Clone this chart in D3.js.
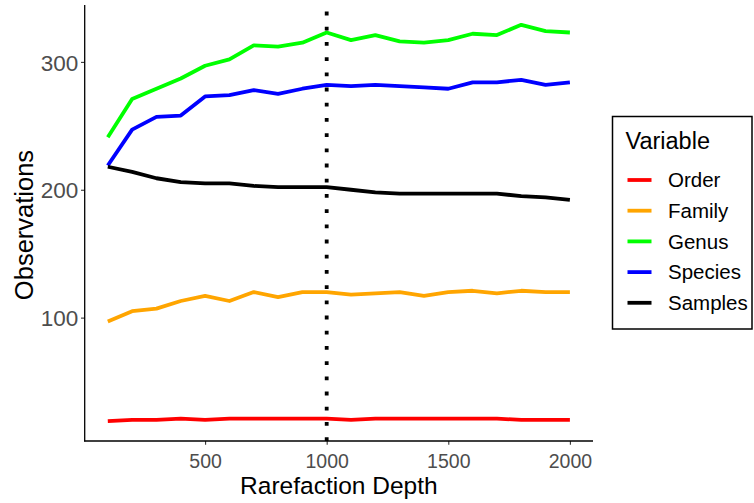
<!DOCTYPE html>
<html>
<head>
<meta charset="utf-8">
<script src="https://cdn.jsdelivr.net/npm/d3@7"></script>
<style>
  html, body { margin: 0; padding: 0; background: #fff; }
  text { font-family: "Liberation Sans", Arial, Helvetica, sans-serif; }
</style>
</head>
<body>
<svg id="chart" width="754" height="503"></svg>
<script>
// ---- data ----
const depths = [100, 200, 300, 400, 500, 600, 700, 800, 900, 1000,
                1100, 1200, 1300, 1400, 1500, 1600, 1700, 1800, 1900, 2000];
const orderVals   = [19, 20, 20, 21, 20, 21, 21, 21, 21, 21, 20, 21, 21, 21, 21, 21, 21, 20, 20, 20];
const familyVals  = [97, 105, 107, 113, 117, 113, 120, 116, 120, 120, 118, 119, 120, 117, 120, 121, 119, 121, 120, 120];
const genusVals   = [241, 271, 279, 287, 297, 302, 313, 312, 315, 323, 317, 321, 316, 315, 317, 322, 321, 329, 324, 323];
const speciesVals = [219, 247, 257, 258, 273, 274, 278, 275, 279, 282, 281, 282, 281, 280, 279, 284, 284, 286, 282, 284];
const samplesVals = [218, 214, 209, 206, 205, 205, 203, 202, 202, 202, 200, 198, 197, 197, 197, 197, 197, 195, 194, 192];
const seriesNames = ["Order", "Family", "Genus", "Species", "Samples"];
const seriesColors = ["#FF0000", "#FFA500", "#00FF00", "#0000FF", "#000000"];
const xTicks = [500, 1000, 1500, 2000];
const yTicks = [100, 200, 300];
const cutoff = 1000;

const seriesValues = [orderVals, familyVals, genusVals, speciesVals, samplesVals];
const series = seriesNames.map((name, i) => ({
  name, color: seriesColors[i],
  points: depths.map((d, j) => ({ x: d, y: seriesValues[i][j] }))
}));

// ---- layout ----
const panel = { left: 84.7, right: 593, top: 5, bottom: 441 };
const svg = d3.select("#chart");
svg.append("rect").attr("width", 754).attr("height", 503).attr("fill", "#fff");

function expand(ext, f) { const s = ext[1] - ext[0]; return [ext[0] - f * s, ext[1] + f * s]; }
const allY = seriesValues.flat();
const x = d3.scaleLinear().domain(expand(d3.extent(depths), 0.05)).range([panel.left, panel.right]);
const y = d3.scaleLinear().domain(expand(d3.extent(allY), 0.05)).range([panel.bottom, panel.top]);

// ---- axes ----
const xAxis = d3.axisBottom(x).tickValues(xTicks).tickSize(3.7).tickPadding(6).tickFormat(d3.format("d"));
const yAxis = d3.axisLeft(y).tickValues(yTicks).tickSize(3.7).tickPadding(3).tickFormat(d3.format("d"));

const gx = svg.append("g").attr("transform", `translate(0,${panel.bottom})`).call(xAxis);
const gy = svg.append("g").attr("transform", `translate(${panel.left},0)`).call(yAxis);
[gx, gy].forEach(g => {
  g.select(".domain").remove();
  g.selectAll(".tick line").attr("stroke", "#333333").attr("stroke-width", 1.1);
  g.selectAll(".tick text").attr("fill", "#4D4D4D")
    .style("font-family", "'Liberation Sans', Arial, sans-serif");
});
gx.selectAll(".tick text").attr("dy", null).attr("y", 26.5).style("font-size", "19.5px");
gy.selectAll(".tick text").attr("dy", "0.36em").attr("x", -6.5).style("font-size", "22.5px");

// axis lines
svg.append("line").attr("x1", panel.left).attr("x2", panel.left)
  .attr("y1", panel.top).attr("y2", panel.bottom + 0.6)
  .attr("stroke", "#000").attr("stroke-width", 1.3);
svg.append("line").attr("x1", panel.left - 0.6).attr("x2", panel.right)
  .attr("y1", panel.bottom).attr("y2", panel.bottom)
  .attr("stroke", "#000").attr("stroke-width", 1.3);

// axis titles
svg.append("text").attr("x", (panel.left + panel.right) / 2).attr("y", 494)
  .attr("text-anchor", "middle").style("font-size", "24.5px").attr("fill", "#000")
  .text("Rarefaction Depth");
svg.append("text")
  .attr("transform", `translate(33,225) rotate(-90)`)
  .attr("text-anchor", "middle").style("font-size", "25.5px").attr("fill", "#000")
  .text("Observations");

// ---- lines ----
const line = d3.line().x(d => x(d.x)).y(d => y(d.y));
svg.append("g").selectAll("path").data(series).join("path")
  .attr("d", d => line(d.points))
  .attr("fill", "none")
  .attr("stroke", d => d.color)
  .attr("stroke-width", 3.8)
  .attr("stroke-linejoin", "round")
  .attr("stroke-linecap", "butt");

// vertical dotted cutoff line (drawn bottom-up)
svg.append("line")
  .attr("x1", x(cutoff)).attr("x2", x(cutoff))
  .attr("y1", panel.bottom).attr("y2", panel.top)
  .attr("stroke", "#000").attr("stroke-width", 3.8)
  .attr("stroke-dasharray", "3.8 11.4");

// ---- legend ----
const lg = svg.append("g");
lg.append("rect").attr("x", 612.5).attr("y", 116.5).attr("width", 139.5).attr("height", 212.5)
  .attr("fill", "#fff").attr("stroke", "#000").attr("stroke-width", 1.5);
lg.append("text").attr("x", 625.5).attr("y", 148.5).style("font-size", "23.5px").attr("fill", "#000")
  .text("Variable");
const items = lg.selectAll("g.item").data(series).join("g").attr("class", "item")
  .attr("transform", (d, i) => `translate(0,${180 + i * 30.7})`);
items.append("line").attr("x1", 627.5).attr("x2", 651.5).attr("y1", 0).attr("y2", 0)
  .attr("stroke", d => d.color).attr("stroke-width", 3.8);
items.append("text").attr("x", 668).attr("y", 0).attr("dy", "0.36em")
  .style("font-size", "20.5px").attr("fill", "#000").text(d => d.name);
</script>
</body>
</html>
